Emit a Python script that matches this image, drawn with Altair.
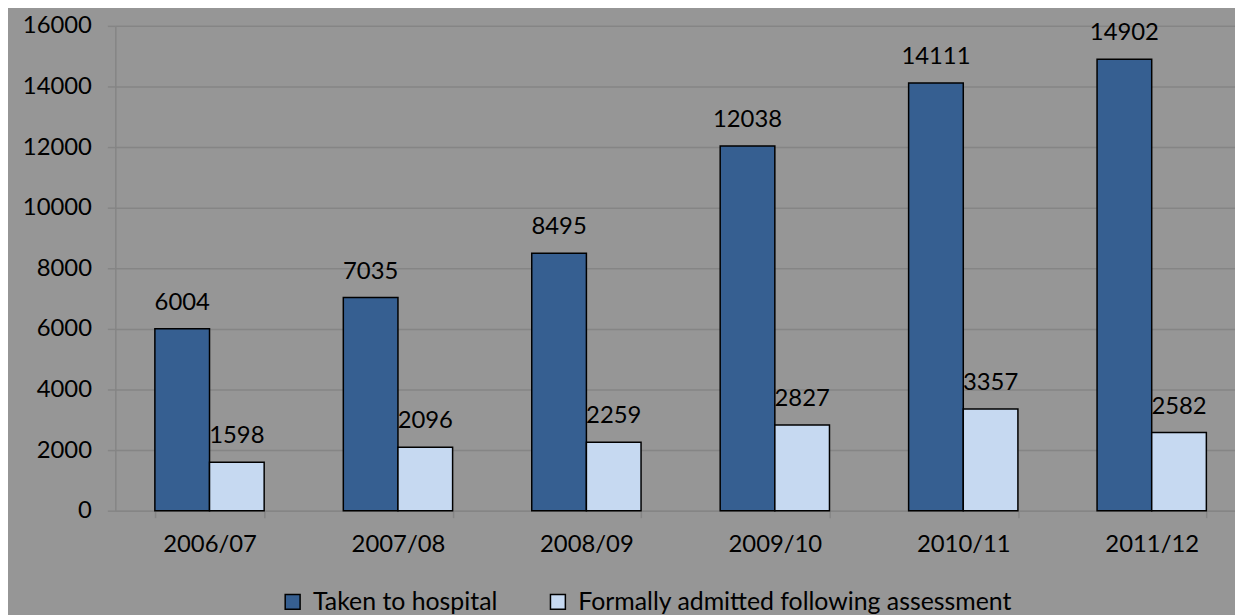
import altair as alt
import pandas as pd

years = ["2006/07", "2007/08", "2008/09", "2009/10", "2010/11", "2011/12"]
series = ["Taken to hospital", "Formally admitted following assessment"]
taken = [6004, 7035, 8495, 12038, 14111, 14902]
admitted = [1598, 2096, 2259, 2827, 3357, 2582]
y_ticks = [0, 2000, 4000, 6000, 8000, 10000, 12000, 14000, 16000]
colors = ["#365F91", "#C6D9F1"]

rows = []
for i, yr in enumerate(years):
    rows.append({"year": yr, "series": series[0], "value": taken[i]})
    rows.append({"year": yr, "series": series[1], "value": admitted[i]})
df = pd.DataFrame(rows)

FONT = "Lato"
GRID = "#858585"

base = alt.Chart(df).encode(
    x=alt.X(
        "year:N",
        sort=years,
        title=None,
        scale=alt.Scale(range=[0, 1138], paddingInner=0.42, paddingOuter=0.21),
        axis=alt.Axis(
            labelAngle=0,
            labelFont=FONT,
            labelFontSize=24,
            labelColor="black",
            labelPadding=15,
            labelBaseline="top",
            tickBand="extent",
            tickSize=7,
            tickColor=GRID,
            tickWidth=1.5,
            domainColor=GRID,
            domainWidth=1.5,
            grid=False,
        ),
    ),
    xOffset=alt.XOffset("series:N", sort=series, scale=alt.Scale(paddingInner=0, paddingOuter=0)),
    y=alt.Y(
        "value:Q",
        title=None,
        scale=alt.Scale(domain=[0, 16000], nice=False),
        axis=alt.Axis(
            values=y_ticks,
            format="d",
            labelFont=FONT,
            labelFontSize=24,
            labelColor="black",
            labelPadding=16,
            tickSize=8,
            tickColor=GRID,
            tickWidth=1.5,
            domainColor=GRID,
            domainWidth=1.5,
            grid=True,
            gridColor=GRID,
            gridWidth=1.5,
        ),
    ),
)

bars = base.mark_bar(stroke="black", strokeWidth=1.5).encode(
    color=alt.Color(
        "series:N",
        sort=series,
        scale=alt.Scale(domain=series, range=colors),
        legend=alt.Legend(
            title=None,
            orient="none",
            legendX=166,
            legendY=567,
            direction="horizontal",
            symbolType="square",
            symbolSize=225,
            symbolStrokeColor="black",
            symbolStrokeWidth=1.5,
            labelFont=FONT,
            labelFontSize=25,
            labelColor="black",
            labelLimit=0,
            labelOffset=8,
            columnPadding=48,
            padding=0,
        ),
    )
)

labels = base.mark_text(
    baseline="alphabetic", dy=-19, fontSize=24, font=FONT, color="black"
).encode(text=alt.Text("value:Q", format="d"))

chart = (
    alt.layer(bars, labels)
    .properties(
        width=1127,
        height=488,
        autosize=alt.AutoSizeParams(type="none"),
        padding={"left": 108, "top": 16, "right": 0, "bottom": 103},
        background="#969696",
    )
    .configure_view(stroke=None, fill="#969696")
)

chart.save("out.html", embed_options={"renderer": "svg", "actions": False})
